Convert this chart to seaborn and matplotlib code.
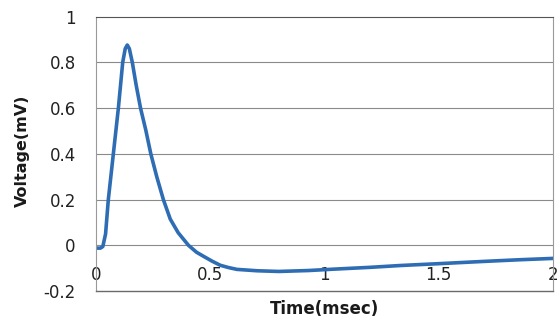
import matplotlib
matplotlib.use("Agg")
import matplotlib.pyplot as plt
import seaborn as sns
import pandas as pd

# values
time_ms = [0, 0.02, 0.03, 0.042, 0.054, 0.076, 0.098, 0.117, 0.128, 0.137,
           0.146, 0.159, 0.176, 0.195, 0.218, 0.24, 0.266, 0.295, 0.325, 0.36,
           0.405, 0.44, 0.471, 0.51, 0.544, 0.58, 0.617, 0.705, 0.8, 0.93,
           1.04, 1.2, 1.333, 1.5, 1.7, 1.85, 2.0]
voltage_mv = [-0.012, -0.012, -0.005, 0.05, 0.2, 0.4, 0.6, 0.8, 0.86, 0.876,
              0.86, 0.8, 0.7, 0.6, 0.504, 0.4, 0.30, 0.2, 0.115, 0.055,
              0.0, -0.03, -0.048, -0.07, -0.087, -0.097, -0.105, -0.111, -0.114, -0.11,
              -0.104, -0.096, -0.088, -0.08, -0.07, -0.063, -0.057]
x_ticks = [0, 0.5, 1, 1.5, 2]
x_tick_labels = ["0", "0.5", "1", "1.5", "2"]
y_ticks = [-0.2, 0, 0.2, 0.4, 0.6, 0.8, 1]
y_tick_labels = ["-0.2", "0", "0.2", "0.4", "0.6", "0.8", "1"]

df = pd.DataFrame({"Time": time_ms, "Voltage": voltage_mv})

sns.set_style("white")
plt.rcParams["font.family"] = ["DejaVu Sans"]

fig = plt.figure(figsize=(5.58, 3.26), dpi=100)
ax = fig.add_axes([0.172, 0.107, 0.819, 0.842])

sns.lineplot(data=df, x="Time", y="Voltage", ax=ax, color="#2e6db4",
             linewidth=2.6, solid_joinstyle="round", solid_capstyle="round")

ax.set_xlim(0, 2)
ax.set_ylim(-0.2, 1)

# horizontal grid lines
for y in y_ticks[1:-1]:
    ax.axhline(y, color="#8a8a8a", linewidth=0.8, zorder=0)

ax.set_yticks(y_ticks)
ax.set_yticklabels(y_tick_labels)
ax.set_xticks(x_ticks)
ax.set_xticklabels(x_tick_labels)
ax.tick_params(axis="both", length=0, labelsize=12, labelcolor="#222222")
ax.tick_params(axis="y", pad=14.5)
# x axis crosses at y = 0 in the original: pull the labels up under that line
ax.tick_params(axis="x", pad=-18)

for side in ["left", "right"]:
    ax.spines[side].set_color("#9a9a9a")
    ax.spines[side].set_linewidth(0.8)
ax.spines["top"].set_color("#555555")
ax.spines["top"].set_linewidth(0.8)
ax.spines["bottom"].set_color("#6a6a6a")
ax.spines["bottom"].set_linewidth(1.0)

ax.set_xlabel("")
ax.set_ylabel("")
fig.text(0.041, 0.537, "Voltage(mV)", fontsize=11.5, fontweight="bold",
         rotation=90, ha="center", va="center", color="#1a1a1a")
fig.text(0.581, 0.052, "Time(msec)", fontsize=12, fontweight="bold",
         ha="center", va="center", color="#1a1a1a")

fig.savefig("out.png", dpi=100)
